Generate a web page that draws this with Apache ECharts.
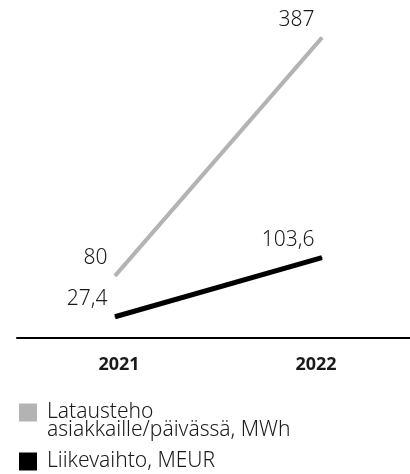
<!DOCTYPE html>
<html>
<head>
<meta charset="utf-8">
<script src="https://cdn.jsdelivr.net/npm/echarts@6/dist/echarts.min.js"></script>
<style>
html,body{margin:0;padding:0;background:#fff;}
#c{width:410px;height:474px;}
</style>
</head>
<body>
<div id="c"></div>
<script>
const categories = ['2021', '2022'];
const chargingValues = [80, 387];
const revenueValues = [27.4, 103.6];
const chargingName = 'Latausteho\nasiakkaille/päivässä, MWh';
const revenueName = 'Liikevaihto, MEUR';

const FONT = '"Noto Sans", sans-serif';
const fmt = p => String(p.value).replace('.', ',');
const xLabelStyle = {color: '#1a1a1a', fontFamily: FONT, fontWeight: 'bold', fontSize: 18};

const chart = echarts.init(document.getElementById('c'), null, {renderer: 'canvas'});
chart.setOption({
  animation: false,
  backgroundColor: '#fff',
  grid: [
    {left: 115, right: 88, top: 12, bottom: 136},
    {left: 17, right: 0, top: 12, bottom: 136}
  ],
  xAxis: [
    {
      type: 'category', gridIndex: 0,
      data: categories,
      boundaryGap: false,
      axisLine: {show: false},
      axisTick: {show: false},
      axisLabel: {
        margin: 18,
        formatter: (v, i) => i === 0 ? '{a|' + v + '}' : '{b|' + v + '}',
        rich: {
          a: Object.assign({padding: [0, 0, 0, 8]}, xLabelStyle),
          b: Object.assign({padding: [0, 12, 0, 0]}, xLabelStyle)
        }
      }
    },
    {
      type: 'category', gridIndex: 1, data: categories,
      axisLine: {lineStyle: {color: '#000', width: 2}},
      axisTick: {show: false}, axisLabel: {show: false}
    }
  ],
  yAxis: [
    {type: 'value', gridIndex: 0, min: 0, max: 420, show: false, splitLine: {show: false}},
    {type: 'value', gridIndex: 1, min: 0, max: 420, show: false, splitLine: {show: false}}
  ],
  legend: [
    {
      left: 19, top: 384, padding: 0, itemWidth: 18, itemHeight: 18, itemGap: 0,
      icon: 'rect', selectedMode: false,
      data: [chargingName],
      formatter: name => ' \n' + name,
      textStyle: {color: '#1a1a1a', fontFamily: FONT, fontSize: 21, lineHeight: 18, fontWeight: 300,
                  padding: [0, 0, 0, 5]}
    },
    {
      left: 19, top: 451, padding: 0, itemWidth: 18, itemHeight: 18,
      icon: 'rect', selectedMode: false,
      data: [revenueName],
      textStyle: {color: '#1a1a1a', fontFamily: FONT, fontSize: 21, lineHeight: 18, fontWeight: 300,
                  padding: [0, 0, 0, 5]}
    }
  ],
  series: [
    {
      name: chargingName, type: 'line', data: chargingValues,
      xAxisIndex: 0, yAxisIndex: 0,
      symbol: 'circle', symbolSize: 1,
      itemStyle: {color: '#b3b3b3'},
      lineStyle: {color: '#b3b3b3', width: 4},
      label: {show: true, position: 'left', distance: 7, offset: [0, -18], formatter: fmt,
              color: '#1a1a1a', fontFamily: FONT, fontSize: 21, fontWeight: 300}
    },
    {
      name: revenueName, type: 'line', data: revenueValues,
      xAxisIndex: 0, yAxisIndex: 0,
      symbol: 'circle', symbolSize: 1,
      itemStyle: {color: '#000'},
      lineStyle: {color: '#000', width: 5},
      label: {show: true, position: 'left', distance: 7, offset: [0, -18], formatter: fmt,
              color: '#1a1a1a', fontFamily: FONT, fontSize: 21, fontWeight: 300}
    }
  ]
});
</script>
</body>
</html>
